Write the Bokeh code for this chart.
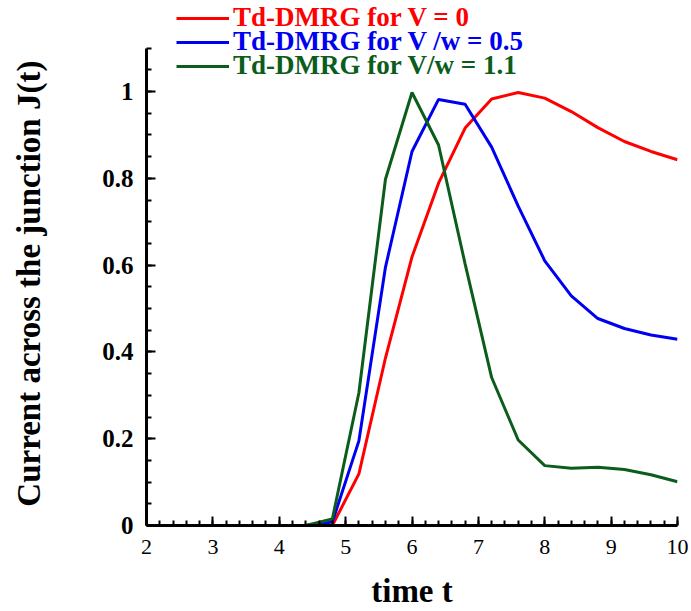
from bokeh.plotting import figure
from bokeh.models import (Range1d, SingleIntervalTicker, CustomJSTickFormatter,
                          Legend, LegendItem)
from bokeh.embed import file_html
from bokeh.resources import INLINE

# ---- data ----
t_v0 = [4.8, 5.2, 5.6, 6.0, 6.4, 6.8, 7.2, 7.6, 8.0, 8.4, 8.8, 9.2, 9.6, 10.0]
j_v0 = [0.0, 0.119, 0.386, 0.619, 0.789, 0.916, 0.983, 0.998, 0.985, 0.954,
        0.917, 0.885, 0.862, 0.843]

t_v05 = [4.4, 4.8, 5.2, 5.6, 6.0, 6.4, 6.8, 7.2, 7.6, 8.0, 8.4, 8.8, 9.2, 9.6, 10.0]
j_v05 = [0.0, 0.008, 0.195, 0.595, 0.862, 0.982, 0.971, 0.872, 0.736, 0.610,
         0.529, 0.477, 0.454, 0.439, 0.429]

t_v11 = [4.4, 4.8, 5.2, 5.6, 6.0, 6.4, 6.8, 7.2, 7.6, 8.0, 8.4, 8.8, 9.2, 9.6, 10.0]
j_v11 = [0.0, 0.015, 0.306, 0.798, 0.998, 0.877, 0.603, 0.341, 0.197, 0.138,
         0.132, 0.134, 0.129, 0.117, 0.101]

labels = ["Td-DMRG for V = 0", "Td-DMRG for V /w = 0.5", "Td-DMRG for V/w = 1.1"]
colors = ["#ff0000", "#0000f0", "#0c5c1c"]

x_title = "time t"
y_title = "Current across the junction J(t)"

Y_AXIS_END = 1.1

FONT = "Liberation Serif"

# frame reaches the top of the canvas so the legend (which sits above the
# axis end) is not clipped; the y axis itself stops at 1.1 via bounds
frame_h = 525
px_per_unit = 477.3 / Y_AXIS_END
p = figure(frame_width=531, frame_height=frame_h,
           x_range=Range1d(2, 10), y_range=Range1d(0, frame_h / px_per_unit),
           output_backend="svg", toolbar_location=None,
           min_border_left=146, min_border_right=14,
           min_border_top=0, min_border_bottom=86)
p.xgrid.visible = False
p.ygrid.visible = False
p.outline_line_color = None
p.background_fill_color = "white"
p.border_fill_color = "white"

series = [(t_v0, j_v0), (t_v05, j_v05), (t_v11, j_v11)]
renderers = []
for (xs, ys), c in zip(series, colors):
    r = p.line(xs, ys, line_color=c, line_width=3)
    renderers.append(r)

# axes
xa = p.xaxis[0]
ya = p.yaxis[0]
xa.ticker = SingleIntervalTicker(interval=1, num_minor_ticks=5)
ya.ticker = SingleIntervalTicker(interval=0.2, num_minor_ticks=4)
ya.formatter = CustomJSTickFormatter(code="return Number(tick.toFixed(1)).toString()")
ya.bounds = (0, Y_AXIS_END)

for ax in (xa, ya):
    ax.axis_line_width = 3
    ax.axis_line_color = "black"
    ax.major_tick_in = 9
    ax.major_tick_out = 0
    ax.minor_tick_in = 5
    ax.minor_tick_out = 0
    ax.major_tick_line_width = 2
    ax.minor_tick_line_width = 2
    ax.major_tick_line_color = "black"
    ax.minor_tick_line_color = "black"
    ax.major_label_text_font = FONT
    ax.major_label_text_color = "black"
    ax.axis_label_text_font = FONT
    ax.axis_label_text_font_style = "bold"
    ax.axis_label_text_font_size = "33px"
    ax.axis_label_text_color = "black"

xa.major_label_text_font_size = "22px"
xa.major_label_standoff = 14
xa.axis_label = x_title
xa.axis_label_standoff = 16

ya.major_label_text_font_size = "25px"
ya.major_label_text_font_style = "bold"
ya.major_label_standoff = 13
# trailing no-break spaces centre the visible title on the axis span (0..1.1)
ya.axis_label = y_title + "\u00a0" * 5
ya.axis_label_standoff = 52

# legends: one per series so each label keeps its own colour
bottoms = [492, 468, 444]
for r, lab, c, b in zip(renderers, labels, colors, bottoms):
    lg = Legend(items=[LegendItem(label=lab, renderers=[r])],
                location=(30, b), orientation="vertical",
                label_text_font=FONT, label_text_font_style="bold",
                label_text_font_size="27px", label_text_color=c,
                glyph_width=53, glyph_height=30, label_height=30,
                label_standoff=4, padding=0, margin=0, spacing=0,
                background_fill_alpha=0, border_line_alpha=0)
    p.add_layout(lg, "center")

open("out.html", "w").write(file_html(p, INLINE))
